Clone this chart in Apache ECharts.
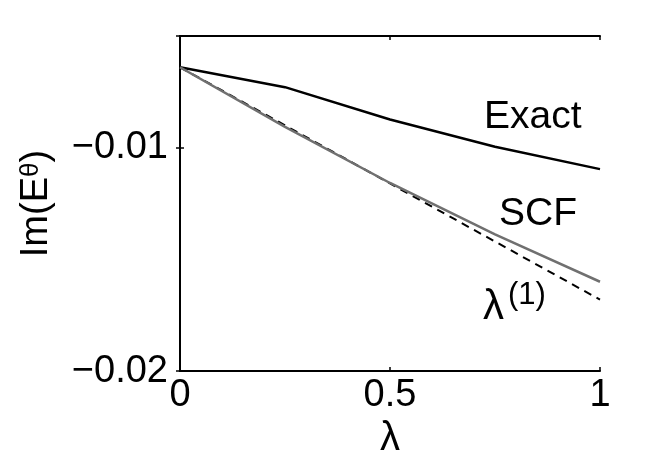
<!DOCTYPE html>
<html><head><meta charset="utf-8">
<script src="https://cdn.jsdelivr.net/npm/echarts@6/dist/echarts.min.js"></script>
<style>html,body{margin:0;padding:0;background:#fff}#c{width:664px;height:464px}</style>
</head><body><div id="c"></div>
<script>
var lambdas = [0, 0.25, 0.5, 0.75, 1];
var exact = [-0.0064, -0.00729, -0.00874, -0.00996, -0.01096];
var scf = [-0.0064, -0.00907, -0.01158, -0.01388, -0.0160];
var firstOrder = [-0.0064, -0.0090, -0.0116, -0.0142, -0.0168];
var xTicks = [0, 0.5, 1];
var yTicks = [-0.02, -0.01];

var F = '"Liberation Sans", Arial, Helvetica, sans-serif';
function pairs(xs, ys){ return xs.map(function(x,i){ return [x, ys[i]]; }); }

var chart = echarts.init(document.getElementById('c'), null, {renderer:'canvas'});
var axisLine = {show:true, lineStyle:{color:'#000', width:2}};
var fmtY = function(v){ var r = Math.round(v*1000)/1000; return yTicks.indexOf(r) >= 0 ? String(r).replace('-', '\u2212') : ''; };
var fmtX = function(v){ return xTicks.indexOf(v) >= 0 ? String(v) : ''; };
chart.setOption({
  animation:false,
  backgroundColor:'#fff',
  grid:{left:180, right:64, top:36, bottom:91, containLabel:false},
  xAxis:[{
    type:'value', min:0, max:1, interval:0.5, position:'bottom',
    axisLine:axisLine, splitLine:{show:false},
    axisTick:{show:true, inside:true, length:4, lineStyle:{color:'#000', width:1.5}},
    axisLabel:{color:'#000', fontFamily:F, fontSize:38, margin:5, formatter:fmtX},
    name:'\u03bb', nameLocation:'middle', nameGap:45,
    nameTextStyle:{color:'#000', fontFamily:F, fontSize:40}
  },{
    type:'value', min:0, max:1, interval:0.5, position:'top',
    axisLine:axisLine, splitLine:{show:false},
    axisTick:{show:true, inside:true, length:4, lineStyle:{color:'#000', width:1.5}},
    axisLabel:{show:false}
  }],
  yAxis:[{
    type:'value', min:-0.02, max:-0.005, interval:0.01, position:'left',
    axisLine:axisLine, splitLine:{show:false},
    axisTick:{show:true, inside:true, length:4, lineStyle:{color:'#000', width:1.5}},
    axisLabel:{color:'#000', fontFamily:F, fontSize:38, margin:12, formatter:fmtY},
    name:'{a|Im(E}{s|\u03b8}{a|)}', nameLocation:'middle', nameGap:124, nameRotate:90,
    nameTextStyle:{color:'#000', fontFamily:F, fontSize:38,
      rich:{a:{fontFamily:F, fontSize:38, color:'#000'},
            s:{fontFamily:F, fontSize:26, color:'#000', verticalAlign:'top', padding:[0,0,12,0]}}}
  },{
    type:'value', min:-0.02, max:-0.005, interval:0.01, position:'right',
    axisLine:axisLine, splitLine:{show:false},
    axisTick:{show:true, inside:true, length:4, lineStyle:{color:'#000', width:1.5}},
    axisLabel:{show:false}
  }],
  series:[
    {type:'line', name:'Exact', data:pairs(lambdas, exact), showSymbol:false, symbol:'none',
     lineStyle:{color:'#000', width:2.5}, z:3},
    {type:'line', name:'lambda1', data:pairs(lambdas, firstOrder), showSymbol:false, symbol:'none',
     lineStyle:{color:'#000', width:2, type:[8,6]}, z:2},
    {type:'line', name:'SCF', data:pairs(lambdas, scf), showSymbol:false, symbol:'none',
     lineStyle:{color:'#707070', width:2.5}, z:4}
  ],
  graphic:[
    {type:'text', left:484, top:98, style:{text:'Exact', font:'39px '+F, fill:'#000'}},
    {type:'text', left:499, top:195, style:{text:'SCF', font:'39px '+F, fill:'#000'}},
    {type:'text', left:483, top:286, style:{text:'\u03bb', font:'42px '+F, fill:'#000'}},
    {type:'text', left:508, top:280, style:{text:'(1)', font:'31px '+F, fill:'#000'}}
  ]
});
</script></body></html>
